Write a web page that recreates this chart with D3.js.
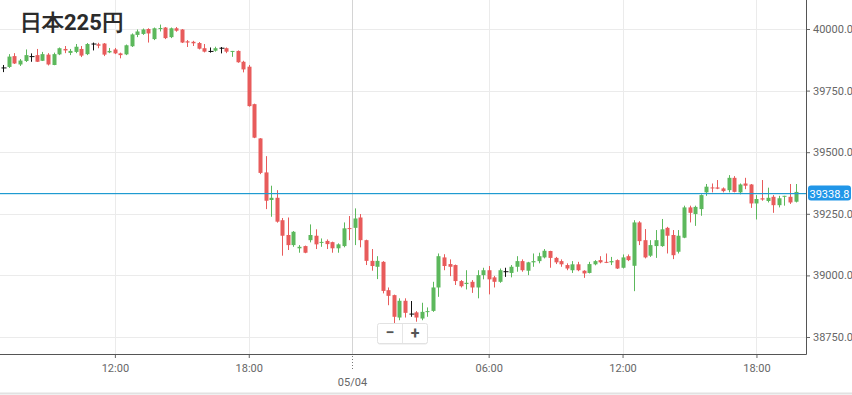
<!DOCTYPE html>
<html><head><meta charset="utf-8">
<script src="https://cdn.jsdelivr.net/npm/d3@7"></script>
<style>
body{margin:0;background:#fff}
svg{display:block}
text{font-family:Roboto,"Noto Sans",sans-serif}
</style>
</head><body>
<svg id="c" width="852" height="395"></svg>
<script>
const title = "日本225円";
const opens  = [39842,39846,39890,39856,39870,39888,39894,39871,39896,39854,39897,39919,39903,39907,39919,39898,39939,39938,39941,39905,39917,39901,39897,39930,39976,39980,40000,39959,40000,40006,39967,40003,39998,39950,39948,39943,39922,39909,39912,39922,39922,39907,39911,39867,39847,39695,39556,39418,39306,39315,39224,39164,39123,39110,39119,39143,39161,39132,39140,39135,39110,39119,39192,39193,39235,39143,39059,39035,39055,38940,38920,38829,38897,38843,38850,38825,38851,38856,38951,39073,39046,39042,38977,38965,38974,38951,39001,39021,38992,38974,39015,39010,39035,39058,39019,39053,39058,39073,39099,39071,39058,39042,39021,39045,39019,39010,39045,39062,39055,39053,39062,39031,39078,39039,39215,39143,39080,39119,39119,39193,39164,39096,39153,39276,39249,39269,39337,39357,39357,39353,39346,39396,39337,39373,39369,39292,39313,39302,39319,39285,39319,39319,39299];
const highs  = [39854,39898,39902,39878,39917,39901,39919,39907,39902,39904,39925,39931,39919,39939,39931,39943,39945,39944,39943,39923,39923,39904,39937,39982,39998,40002,40003,40006,40018,40008,40006,40008,40000,39955,39952,39947,39939,39925,39928,39927,39925,39911,39913,39871,39854,39697,39557,39484,39364,39346,39233,39235,39180,39123,39121,39207,39187,39150,39146,39137,39130,39215,39241,39272,39249,39145,39107,39078,39058,38951,38922,38907,38907,38896,38855,38889,38870,38974,39089,39086,39065,39044,38981,39021,38981,39021,39031,39038,38998,39028,39031,39042,39078,39065,39055,39089,39092,39107,39100,39075,39065,39049,39058,39055,39021,39055,39062,39078,39089,39075,39065,39085,39085,39224,39220,39188,39143,39184,39229,39197,39184,39184,39283,39283,39283,39329,39371,39373,39387,39357,39407,39403,39373,39396,39371,39326,39387,39356,39326,39323,39323,39371,39371];
const lows   = [39825,39842,39858,39850,39866,39867,39866,39870,39852,39853,39894,39902,39894,39902,39886,39894,39913,39922,39890,39902,39898,39881,39894,39927,39967,39976,39945,39955,39990,39959,39963,39989,39943,39927,39931,39917,39905,39904,39908,39901,39902,39887,39863,39824,39685,39557,39411,39269,39238,39214,39080,39103,39116,39092,39090,39134,39107,39116,39107,39092,39092,39114,39143,39123,39114,39042,39019,38985,38927,38879,38805,38818,38829,38832,38812,38818,38832,38852,38913,39021,38997,38961,38951,38943,38929,38907,38984,38923,38951,38970,38994,38992,39015,39015,39001,39035,39049,39069,39031,39046,39035,39021,39010,39017,38990,39008,39041,39049,39050,39042,39026,39028,39058,38936,39123,39069,39075,39071,39116,39089,39066,39089,39151,39215,39201,39242,39323,39337,39350,39337,39337,39337,39329,39350,39274,39227,39303,39296,39254,39276,39283,39290,39296];
const closes = [39842,39888,39860,39872,39894,39888,39867,39898,39856,39898,39922,39913,39911,39928,39892,39939,39939,39932,39896,39911,39901,39894,39934,39978,39990,39998,39982,40003,40004,39963,40003,39993,39945,39945,39942,39920,39908,39909,39922,39922,39908,39911,39865,39836,39687,39559,39416,39303,39315,39218,39161,39123,39177,39116,39092,39164,39126,39136,39127,39110,39126,39191,39188,39231,39143,39059,39038,39059,38937,38917,38832,38897,38848,38843,38829,38852,38855,38951,39078,39038,39035,38977,38956,38970,38951,39001,39021,38984,38974,39021,39015,39035,39058,39021,39053,39058,39078,39100,39071,39053,39045,39028,39045,39021,39008,39046,39058,39053,39051,39058,39028,39073,39062,39215,39139,39073,39123,39143,39187,39161,39082,39161,39276,39254,39278,39326,39360,39353,39352,39342,39396,39339,39369,39364,39292,39310,39308,39315,39285,39313,39323,39296,39338.8];
const yTickValues = [38750, 39000, 39250, 39500, 39750, 40000];
const xTickIndex  = [20, 44, 62.45, 87, 111, 135];
const xTickLabels = ["12:00", "18:00", "", "06:00", "12:00", "18:00"];
const dateIndex = 62.45;
const dateLabel = "05/04";
const lastPrice = 39338.8;

const W = 852, H = 395, plotR = 806, plotB = 354;
const svg = d3.select("#c");
svg.append("rect").attr("width", W).attr("height", H).attr("fill", "#fff");

const x = d3.scaleLinear().domain([0, opens.length - 1]).range([3.3, 795.5]);
const y = d3.scaleLinear().domain([38750, 40000]).range([337, 29]);

// grid
const grid = svg.append("g");
grid.selectAll("line.h").data(yTickValues).join("line")
  .attr("x1", 0).attr("x2", plotR)
  .attr("y1", d => Math.round(y(d)) + 0.5).attr("y2", d => Math.round(y(d)) + 0.5)
  .attr("stroke", "#ebebeb");
grid.selectAll("line.v").data(xTickIndex).join("line")
  .attr("x1", d => Math.round(x(d)) + 0.5).attr("x2", d => Math.round(x(d)) + 0.5)
  .attr("y1", 0).attr("y2", plotB)
  .attr("stroke", d => d === dateIndex ? "#d4d4d4" : "#ebebeb");

// title
svg.append("text").attr("x", 20).attr("y", 30).text(title)
  .attr("font-family", "'Noto Sans CJK JP','Noto Sans',sans-serif")
  .attr("font-weight", "bold").attr("font-size", 22).attr("fill", "#2b2b2b");

// candles
const idx = d3.range(opens.length);
const col = i => opens[i] === closes[i] ? "#111" : (closes[i] > opens[i] ? "#5cb85c" : "#e85b5b");
const cg = svg.append("g");
cg.selectAll("line.w").data(idx).join("line")
  .attr("x1", i => Math.round(x(i)) + 0.5).attr("x2", i => Math.round(x(i)) + 0.5)
  .attr("y1", i => y(highs[i])).attr("y2", i => y(lows[i]))
  .attr("stroke", col).attr("stroke-width", 1);
const bw = 4;
cg.selectAll("rect.b").data(idx).join("rect")
  .attr("x", i => Math.round(x(i)) + 0.5 - bw / 2)
  .attr("width", i => opens[i] === closes[i] ? bw + 1 : bw)
  .attr("y", i => opens[i] === closes[i] ? y(opens[i]) - 0.5 : y(Math.max(opens[i], closes[i])))
  .attr("height", i => Math.max(1, Math.abs(y(opens[i]) - y(closes[i]))))
  .attr("fill", col);

// price line
const py = Math.round(y(lastPrice)) + 1;
svg.append("rect").attr("x", 0).attr("y", py).attr("width", plotR).attr("height", 1.2)
  .attr("fill", "#1f9bd1");

// right axis
const ra = svg.append("g").attr("transform", `translate(${plotR},0)`)
  .call(d3.axisRight(y).tickValues(yTickValues).tickFormat(d3.format(".1f")).tickSize(4).tickPadding(3));
ra.select(".domain").remove();
ra.selectAll("line").attr("stroke", "#666");
ra.selectAll("text").attr("fill", "#666").attr("font-size", 11).attr("font-family", "Roboto,sans-serif");
svg.append("line").attr("x1", plotR + 0.5).attr("x2", plotR + 0.5).attr("y1", 0).attr("y2", plotB + 0.5)
  .attr("stroke", "#555");

// last price label
svg.append("rect").attr("x", 808).attr("y", py - 7.5).attr("width", 43).attr("height", 15).attr("rx", 3)
  .attr("fill", "#2196e8");
svg.append("text").attr("x", 829.5).attr("y", py + 4.5).attr("text-anchor", "middle")
  .attr("fill", "#fff").attr("font-size", 11).text(d3.format(".1f")(lastPrice));

// bottom axis
const ba = svg.append("g").attr("transform", `translate(0,${plotB})`)
  .call(d3.axisBottom(x).tickValues(xTickIndex).tickFormat((d, i) => xTickLabels[i]).tickSize(4).tickPadding(6));
ba.select(".domain").remove();
ba.selectAll("line").attr("stroke", d => d === dateIndex ? "none" : "#666");
ba.selectAll("text").attr("fill", "#666").attr("font-size", 11).attr("font-family", "Roboto,sans-serif");
svg.append("line").attr("x1", 0).attr("x2", plotR + 0.5).attr("y1", plotB + 0.5).attr("y2", plotB + 0.5)
  .attr("stroke", "#555");
const dx = Math.round(x(dateIndex)) + 0.5;
svg.append("line").attr("x1", dx).attr("x2", dx).attr("y1", plotB + 2).attr("y2", plotB + 16)
  .attr("stroke", "#777").attr("stroke-dasharray", "1,2");
svg.append("text").attr("x", dx).attr("y", 386).attr("text-anchor", "middle")
  .attr("fill", "#666").attr("font-size", 11).text(dateLabel);

// bottom frame line
svg.append("line").attr("x1", 0).attr("x2", W).attr("y1", 393.5).attr("y2", 393.5)
  .attr("stroke", "#e2e2e2").attr("stroke-width", 2);

// zoom buttons
const zb = svg.append("g").attr("transform", "translate(377,323)");
zb.append("rect").attr("x", 0.5).attr("y", 1.5).attr("width", 50).attr("height", 20).attr("fill", "#e8e8e8").attr("rx", 2);
zb.append("rect").attr("x", 0.5).attr("y", 0.5).attr("width", 50).attr("height", 20).attr("fill", "#fff")
  .attr("stroke", "#e2e2e2").attr("rx", 2);
zb.append("line").attr("x1", 25.5).attr("x2", 25.5).attr("y1", 1).attr("y2", 20).attr("stroke", "#e6e6e6");
zb.append("text").attr("x", 13).attr("y", 15).attr("text-anchor", "middle").attr("font-size", 16)
  .attr("font-weight", "bold").attr("fill", "#555").text("−");
zb.append("text").attr("x", 38).attr("y", 15.5).attr("text-anchor", "middle").attr("font-size", 16)
  .attr("font-weight", "bold").attr("fill", "#555").text("+");
</script>
</body></html>
